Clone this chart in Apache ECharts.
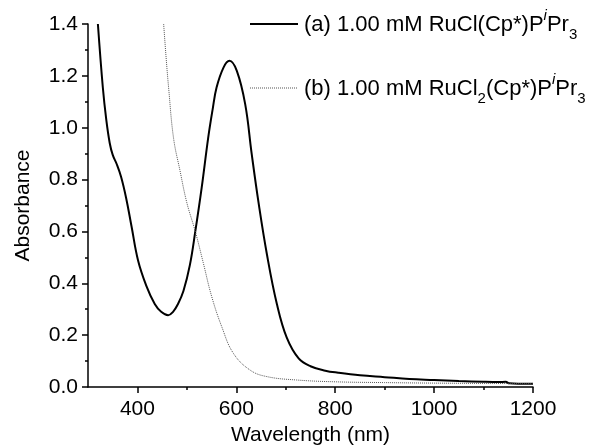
<!DOCTYPE html>
<html>
<head>
<meta charset="utf-8">
<script src="https://cdn.jsdelivr.net/npm/echarts@6/dist/echarts.min.js"></script>
<style>
html,body{margin:0;padding:0;background:#fff;}
#absChart{width:594px;height:445px;}
</style>
</head>
<body>
<div id="absChart"></div>
<script>
// wavelength (nm) / absorbance
var waveA = [320,330,337,344,350,358,367,377,388,401,418,435,448,462,472,482,493,506,517,530,543,552,560,574,586,601,618,631,645,662,682,702,726,750,780,806,850,900,950,1000,1050,1100,1130,1145,1152,1170,1200];
var absA  = [1.40,1.155,1.03,0.94,0.895,0.86,0.81,0.73,0.62,0.49,0.39,0.32,0.29,0.277,0.29,0.32,0.37,0.47,0.60,0.77,0.96,1.07,1.155,1.232,1.258,1.219,1.09,0.90,0.71,0.51,0.32,0.19,0.11,0.080,0.063,0.055,0.045,0.038,0.031,0.027,0.023,0.020,0.019,0.020,0.014,0.013,0.013];
var waveB = [453,458,463,473,486,500,517,533,550,571,594,628,662,722,800,900,1000,1100,1200];
var absB  = [1.40,1.27,1.155,0.96,0.835,0.71,0.60,0.48,0.35,0.23,0.13,0.065,0.040,0.027,0.020,0.017,0.015,0.014,0.013];
var xMajor = [400,600,800,1000,1200];
var xMinor = [500,700,900,1100];
var legendA = '(a) 1.00 mM RuCl(Cp*)P{sup|i}Pr{sub|3}';
var legendB = '(b) 1.00 mM RuCl{sub|2}(Cp*)P{sup|i}Pr{sub|3}';

var FONT = 'Liberation Sans, Arial, sans-serif';

function pairs(xs, ys){
	return xs.map(function(x, i){ return [x, ys[i]]; });
}

var chart = echarts.init(document.getElementById('absChart'));

var legendRich = {
	sup: {fontSize: 15, fontStyle: 'italic', fontFamily: FONT, color: '#000', lineHeight: 18, verticalAlign: 'top'},
	sub: {fontSize: 15, fontFamily: FONT, color: '#000', lineHeight: 14, verticalAlign: 'bottom'}
};

var option = {
	animation: false,
	backgroundColor: '#fff',
	grid: {left: 88, right: 61, top: 24, bottom: 58, containLabel: false, outerBoundsMode: 'none'},
	xAxis: [
		{
			type: 'value',
			min: 300,
			max: 1200,
			name: 'Wavelength (nm)',
			nameLocation: 'middle',
			nameGap: 32,
			nameTextStyle: {fontSize: 21, fontFamily: FONT, color: '#000'},
			axisLine: {show: true, onZero: false, lineStyle: {color: '#000', width: 1.5}},
			axisTick: {show: true, length: 6, customValues: xMajor, lineStyle: {color: '#000', width: 1.5}},
			axisLabel: {customValues: xMajor, fontSize: 21, fontFamily: FONT, color: '#000', margin: 12,
				formatter: function(v){ return String(v); }},
			splitLine: {show: false}
		},
		{
			type: 'value',
			min: 300,
			max: 1200,
			position: 'bottom',
			axisLine: {show: false},
			axisTick: {show: true, length: 3, customValues: xMinor, lineStyle: {color: '#000', width: 1.5}},
			axisLabel: {show: false},
			splitLine: {show: false}
		}
	],
	yAxis: {
		type: 'value',
		min: 0,
		max: 1.4,
		interval: 0.2,
		name: 'Absorbance',
		nameLocation: 'middle',
		nameGap: 54,
		nameTextStyle: {fontSize: 21, fontFamily: FONT, color: '#000'},
		axisLine: {show: true, onZero: false, lineStyle: {color: '#000', width: 1.5}},
		axisTick: {show: true, length: 6, lineStyle: {color: '#000', width: 1.5}},
		minorTick: {show: true, splitNumber: 2, length: 3, lineStyle: {color: '#000', width: 1.5}},
		axisLabel: {fontSize: 21, fontFamily: FONT, color: '#000', margin: 10,
			formatter: function(v){ return v.toFixed(1); }},
		splitLine: {show: false}
	},
	series: [
		{
			name: 'a',
			type: 'line',
			data: pairs(waveA, absA),
			showSymbol: false,
			smooth: 0.4,
			lineStyle: {color: '#000', width: 2}
		},
		{
			name: 'b',
			type: 'line',
			data: pairs(waveB, absB),
			showSymbol: false,
			smooth: 0.4,
			lineStyle: {color: '#555', width: 1, type: [1, 1]}
		}
	],
	graphic: [
		{type: 'line', shape: {x1: 250, y1: 24, x2: 298, y2: 24}, style: {stroke: '#000', lineWidth: 2}},
		{type: 'text', left: 304, top: 8, style: {text: legendA, fontSize: 22, fontFamily: FONT, fill: '#000', lineHeight: 34, rich: legendRich}},
		{type: 'line', shape: {x1: 250, y1: 88, x2: 298, y2: 88}, style: {stroke: '#555', lineWidth: 1, lineDash: [1, 1]}},
		{type: 'text', left: 304, top: 72, style: {text: legendB, fontSize: 22, fontFamily: FONT, fill: '#000', lineHeight: 34, rich: legendRich}}
	]
};

chart.setOption(option);
</script>
</body>
</html>
